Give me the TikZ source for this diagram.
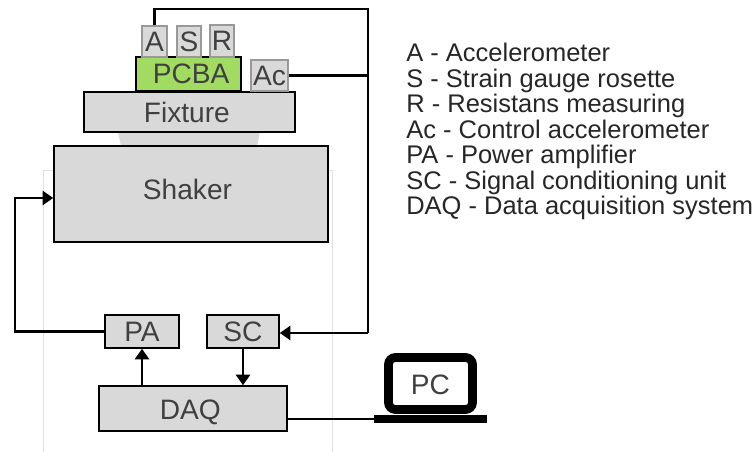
\documentclass[tikz,border=0pt]{standalone}
\usepackage{fontspec}
\setmainfont{Liberation Sans}
\usetikzlibrary{arrows.meta}
\def\px{0.02cm}
\newcommand{\boxlabel}[2]{\raisebox{#1}[0pt][0pt]{#2}}
\definecolor{boxgrey}{HTML}{D9D9D9}
\definecolor{pcbagreen}{HTML}{A2DB62}
\definecolor{inkgrey}{HTML}{404040}
\tikzset{
  box/.style={draw=black,line width=0.9pt,fill=boxgrey,text=inkgrey,inner sep=0pt,font=\fontsize{16}{18}\selectfont},
  sensor/.style={box,draw=black!40,line width=0.6pt},
  wire/.style={draw=black,line width=1.3pt},
  arrowwire/.style={wire,-{Triangle[length=6pt,width=8pt]}},
  legendtext/.style={anchor=west,inner sep=0pt,text=black!85,text height=11pt,text depth=3pt,font=\fontsize{14.5}{17}\selectfont}
}
\begin{document}
\begin{tikzpicture}[x=\px,y=-\px]
\useasboundingbox (0,0) rectangle (755,452);
% faint frame behind the shaker
\draw[black!12,line width=0.5pt] (43,452) -- (43,170) -- (332,170) -- (332,452);
% pedestal
\fill[boxgrey] (118,132) -- (260,132) -- (257,146) -- (121,146) -- cycle;

\node[box,minimum width=274*\px,minimum height=96*\px] (Shaker) at (191,194) {\boxlabel{-3.2pt}{Shaker\hspace*{4pt}}};
\node[box,minimum width=211*\px,minimum height=40*\px] (Fixture) at (189.5,112) {\boxlabel{-5.8pt}{Fixture\hspace*{3pt}}};
\node[box,fill=pcbagreen,minimum width=105*\px,minimum height=34*\px] (PCBA) at (188.5,74) {\hspace*{3pt}PCBA};
\node[sensor,minimum width=25*\px,minimum height=31*\px] (A) at (154.5,41.5) {A};
\node[sensor,minimum width=24*\px,minimum height=31*\px] (S) at (189,41.5) {S};
\node[sensor,minimum width=24*\px,minimum height=32*\px] (R) at (222,41) {R};
\node[sensor,minimum width=37*\px,minimum height=31*\px] (Ac) at (269.5,75.5) {Ac};

\node[box,minimum width=74*\px,minimum height=33*\px] (PA) at (142,331.5) {PA};
\node[box,minimum width=72*\px,minimum height=33*\px] (SC) at (243,331.5) {SC};
\node[box,minimum width=188*\px,minimum height=45*\px] (DAQ) at (193,408.5) {\boxlabel{-6pt}{DAQ\hspace*{3pt}}};

% laptop
\node[draw=black,line width=5pt,rounded corners=4pt,fill=white,text=inkgrey,inner sep=0pt,minimum width=84*\px,minimum height=52*\px,font=\fontsize{16}{18}\selectfont] (PC) at (430.5,383.5) {\boxlabel{-6pt}{PC}};
\node[fill=black,inner sep=0pt,minimum width=113*\px,minimum height=8*\px] (base) at (430.5,419) {};

% sensor lines
\coordinate (topright) at (368,9);
\coordinate (botright) at (368,333);
\coordinate (feed) at (15,198);
\draw[wire] (A.north) |- (topright) -- (botright);
\draw[wire] (Ac.east) -- (Ac.east -| topright);
\draw[arrowwire] (botright) -- (SC.east |- botright);
\draw[arrowwire] (PA.west) -| (feed) -- (Shaker.west |- feed);
\draw[arrowwire,line width=1.6pt] (DAQ.north -| PA.south) -- (PA.south);
\draw[arrowwire,line width=1.6pt] (SC.south) -- (DAQ.north -| SC.south);
\draw[wire] (base.west -| DAQ.east) -- (base.west);

% legend
\foreach \i/\t in {0/A - Accelerometer,1/S - Strain gauge rosette,2/R - Resistans measuring,3/Ac - Control accelerometer,4/PA - Power amplifier,5/SC - Signal conditioning unit,6/DAQ - Data acquisition system}
  \node[legendtext] (legend\i) at (406,{54.5+25.5*\i}) {\t};
\end{tikzpicture}
\end{document}
